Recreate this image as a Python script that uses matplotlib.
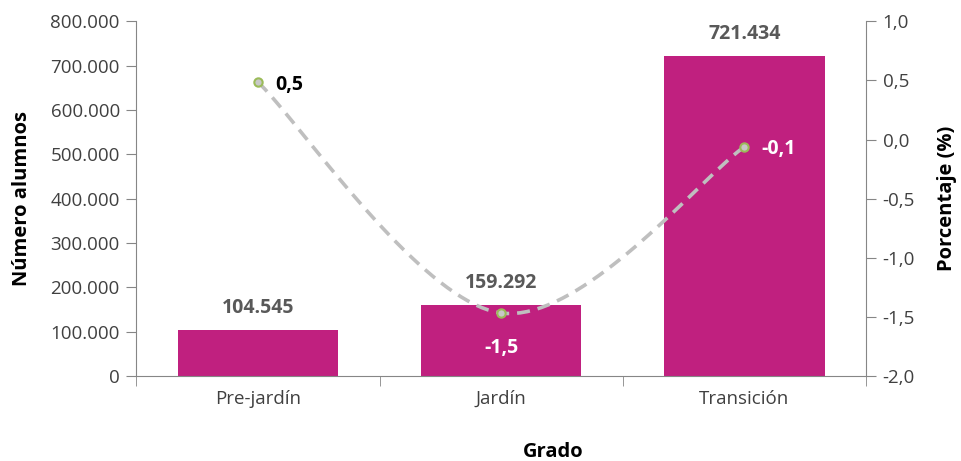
import numpy as np
import matplotlib.pyplot as plt

plt.rcParams['font.family'] = ['Open Sans', 'DejaVu Sans']

grados = ['Pre-jardín', 'Jardín', 'Transición']
alumnos = [104545, 159292, 721434]
alumnos_txt = ['104.545', '159.292', '721.434']
porcentaje = [0.485, -1.466, -0.062]
porcentaje_txt = ['0,5', '-1,5', '-0,1']

left_ticks = [0, 100000, 200000, 300000, 400000, 500000, 600000, 700000, 800000]
left_labels = ['0', '100.000', '200.000', '300.000', '400.000', '500.000', '600.000', '700.000', '800.000']
right_ticks = [-2.0, -1.5, -1.0, -0.5, 0.0, 0.5, 1.0]
right_labels = ['-2,0', '-1,5', '-1,0', '-0,5', '0,0', '0,5', '1,0']

bar_color = '#C0207F'
axis_color = '#868686'
text_color = '#404040'


def suavizar(xs, ys, n=40):  # curva suavizada tipo Excel (Catmull-Rom)
    px = [xs[0]] + list(xs) + [xs[-1]]
    py = [ys[0]] + list(ys) + [ys[-1]]
    out_x, out_y = [], []
    t = np.linspace(0, 1, n)
    for i in range(1, len(px) - 2):
        for p, out in ((px, out_x), (py, out_y)):
            p0, p1, p2, p3 = p[i - 1], p[i], p[i + 1], p[i + 2]
            out.extend(0.5 * (2 * p1 + (-p0 + p2) * t + (2 * p0 - 5 * p1 + 4 * p2 - p3) * t ** 2
                              + (-p0 + 3 * p1 - 3 * p2 + p3) * t ** 3))
    return out_x, out_y


fig = plt.figure(figsize=(9.61, 4.61), dpi=100)
ax = fig.add_axes([0.142, 0.184, 0.759, 0.770])
x = np.arange(len(grados))
ax.bar(x, alumnos, width=0.66, color=bar_color, zorder=2)
ax.set_xlim(-0.5, 2.5)
ax.set_ylim(0, 800000)
ax.set_yticks(left_ticks)
ax.set_yticklabels(left_labels)
ax.set_xticks(x)
ax.set_xticklabels(grados)
ax.set_xticks([-0.5, 0.5, 1.5, 2.5], minor=True)
ax.tick_params(axis='x', which='major', length=0, pad=10, labelsize=13.5, labelcolor=text_color)
ax.tick_params(axis='x', which='minor', length=7, color=axis_color, direction='out')
ax.tick_params(axis='y', length=7, color=axis_color, labelsize=13.5, labelcolor=text_color, pad=5)
for s in ['top', 'right']:
    ax.spines[s].set_visible(False)
for s in ['left', 'bottom']:
    ax.spines[s].set_color(axis_color)

for xi, v, t in zip(x, alumnos, alumnos_txt):
    ax.text(xi, v + 50000, t, ha='center', va='center', fontsize=14, fontweight='bold', color='#595959')

ax.set_ylabel('Número alumnos', fontsize=14.5, fontweight='bold', color='black', labelpad=13)

ax2 = ax.twinx()
ax2.set_ylim(-2.0, 1.0)
ax2.set_yticks(right_ticks)
ax2.set_yticklabels(right_labels)
ax2.tick_params(axis='y', length=7, color=axis_color, labelsize=13.5, labelcolor=text_color, pad=5)
for s in ['top', 'left', 'bottom']:
    ax2.spines[s].set_visible(False)
ax2.spines['right'].set_color(axis_color)

sx, sy = suavizar(x, porcentaje)
ax2.plot(sx, sy, color='#BFBFBF', lw=2.6, ls=(0, (3.6, 2.2)), zorder=3)
ax2.plot(x, porcentaje, 'o', ms=6, mfc='#C8C8C8', mec='#9BBB59', mew=1.5, zorder=4)

ax2.text(x[0] + 0.07, porcentaje[0] - 0.02, porcentaje_txt[0], ha='left', va='center',
         fontsize=14, fontweight='bold', color='black')
ax2.text(x[1], porcentaje[1] - 0.3, porcentaje_txt[1], ha='center', va='center',
         fontsize=14, fontweight='bold', color='white')
ax2.text(x[2] + 0.07, porcentaje[2] - 0.02, porcentaje_txt[2], ha='left', va='center',
         fontsize=14, fontweight='bold', color='white')

ax2.set_ylabel('Porcentaje (%)', fontsize=14.5, fontweight='bold', color='black', labelpad=16)
fig.text(553 / 961, 1 - 452 / 461, 'Grado', ha='center', va='center', fontsize=14.5, fontweight='bold')

fig.savefig('out.png', dpi=100)
